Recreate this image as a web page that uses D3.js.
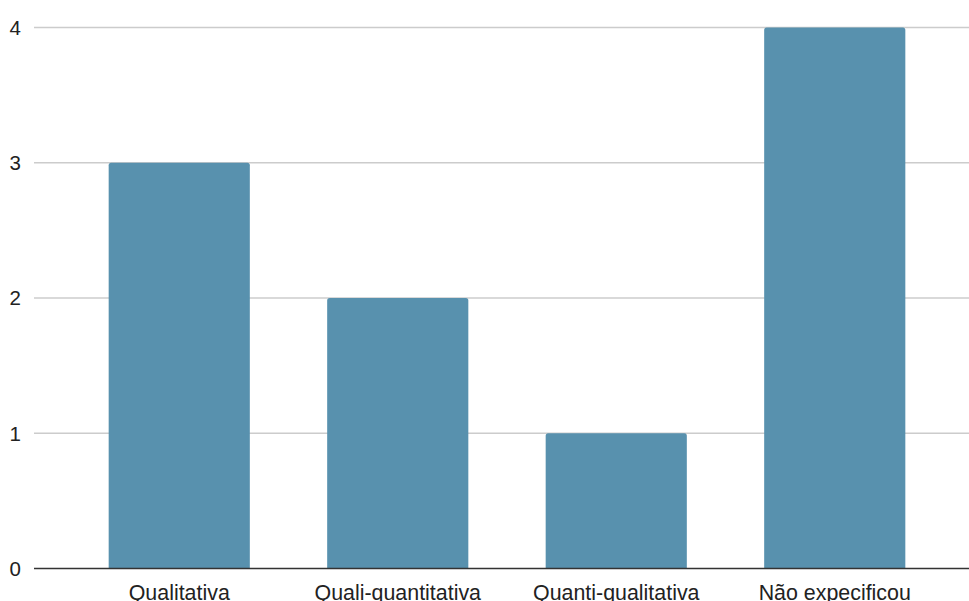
<!DOCTYPE html>
<html>
<head>
<meta charset="utf-8">
<script src="https://cdn.jsdelivr.net/npm/d3@7"></script>
<style>
  html, body { margin: 0; padding: 0; background: #fff; }
  svg { display: block; font-family: "Liberation Sans", Arial, sans-serif; }
</style>
</head>
<body>
<svg id="chart" width="969" height="601"></svg>
<script>
// Number of studies by research approach
const categories = ["Qualitativa", "Quali-quantitativa", "Quanti-qualitativa", "Não expecificou"];
const values = [3, 2, 1, 4];
const yTicks = [0, 1, 2, 3, 4];

(function () {
  const svg = d3.select("#chart");
  const W = 969;
  const gridLeft = 34, gridRight = W;
  const plotTop = 27.5, plotBottom = 568.5;

  const x = d3.scaleBand()
    .domain(categories)
    .range([70, 944])
    .paddingInner(0.354)
    .paddingOuter(0.177);

  const y = d3.scaleLinear().domain([0, 4]).range([plotBottom, plotTop]);

  // horizontal gridlines
  svg.append("g")
    .selectAll("line")
    .data(yTicks.filter(d => d !== 0))
    .join("line")
    .attr("x1", gridLeft).attr("x2", gridRight)
    .attr("y1", d => y(d)).attr("y2", d => y(d))
    .attr("stroke", "#cccccc").attr("stroke-width", 1.3);

  // y tick labels
  svg.append("g")
    .selectAll("text")
    .data(yTicks)
    .join("text")
    .attr("x", 21)
    .attr("y", d => y(d))
    .attr("dy", "0.36em")
    .attr("text-anchor", "end")
    .attr("font-size", 20.5)
    .attr("fill", "#222")
    .text(d => d);

  // bars with softly rounded top corners
  const r = 2.5;
  svg.append("g")
    .selectAll("path")
    .data(categories.map((c, i) => ({ c, v: values[i] })))
    .join("path")
    .attr("fill", "#5891ae")
    .attr("d", d => {
      const x0 = x(d.c), x1 = x0 + x.bandwidth();
      const y0 = y(d.v), y1 = y(0);
      return `M${x0},${y1}V${y0 + r}Q${x0},${y0} ${x0 + r},${y0}H${x1 - r}Q${x1},${y0} ${x1},${y0 + r}V${y1}Z`;
    });

  // baseline
  svg.append("line")
    .attr("x1", gridLeft).attr("x2", gridRight)
    .attr("y1", y(0)).attr("y2", y(0))
    .attr("stroke", "#333").attr("stroke-width", 1.5);

  // category labels
  svg.append("g")
    .selectAll("text")
    .data(categories)
    .join("text")
    .attr("x", d => x(d) + x.bandwidth() / 2)
    .attr("y", 600)
    .attr("text-anchor", "middle")
    .attr("font-size", 21.4)
    .attr("fill", "#222")
    .text(d => d);
})();
</script>
</body>
</html>
